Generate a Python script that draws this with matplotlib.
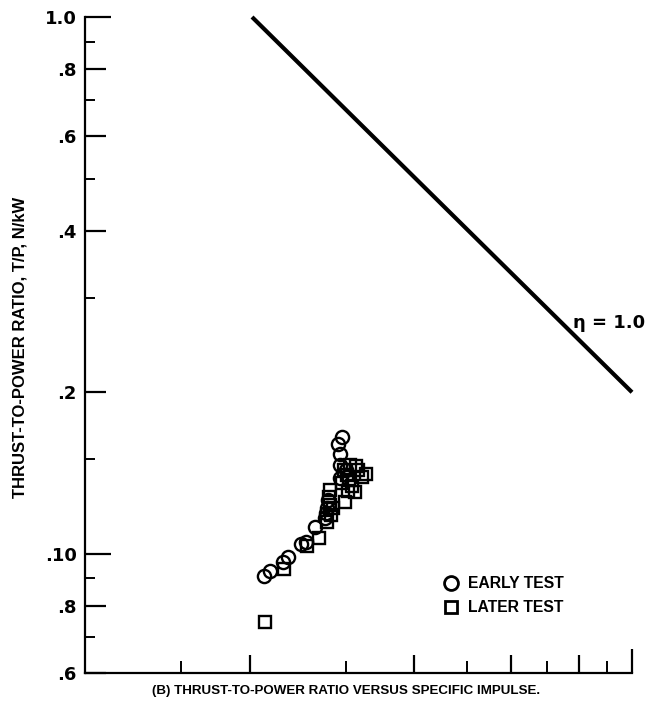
import matplotlib
matplotlib.use("Agg")
import matplotlib.pyplot as plt
from matplotlib.ticker import FixedLocator, FixedFormatter, NullFormatter
from matplotlib.lines import Line2D

# ---- data ----
early_isp = [212, 218, 230, 235, 248, 254, 263, 275, 276, 277, 278, 290, 295, 292, 293, 292, 300]
early_tp = [0.091, 0.093, 0.0966, 0.0987, 0.1044, 0.1053, 0.1122, 0.1166, 0.1192, 0.1219, 0.126,
            0.160, 0.165, 0.1536, 0.1465, 0.1386, 0.1433]

later_isp = [213, 231, 255, 268, 277, 282, 279, 284, 281, 299, 303, 304, 308, 312, 297, 305,
             313, 316, 326, 321, 301, 281, 295]
later_tp = [0.0747, 0.0938, 0.1035, 0.107, 0.1147, 0.1182, 0.1277, 0.1218, 0.1234, 0.125, 0.131,
            0.1374, 0.134, 0.1304, 0.1433, 0.1465, 0.1458, 0.1433, 0.141, 0.139, 0.140, 0.1316, 0.1356]

eta_isp = [202, 1000]
eta_tp = [1.0, 0.20]

y_major = [1.0, 0.8, 0.6, 0.4, 0.2, 0.1, 0.08, 0.06]
y_major_labels = ['1.0', '.8', '.6', '.4', '.2', '.10', '.8', '.6']
y_minor = [0.9, 0.7, 0.5, 0.3, 0.15, 0.09, 0.07]
x_major = [200, 400, 600, 800, 1000]
x_minor = [150, 300, 500, 700, 900]

FONT = ['DejaVu Sans']
NARROW = ['Liberation Sans', 'DejaVu Sans']

fig = plt.figure(figsize=(6.57, 7.12), dpi=100)
ax = fig.add_axes([85/657, 1 - 673/712, (632-85)/657, (673-17)/712])

ax.set_xscale('log')
ax.set_yscale('log')
ax.set_xlim(100, 1000)
ax.set_ylim(0.06, 1.0)

ax.plot(eta_isp, eta_tp, color='black', lw=3.0, solid_capstyle='butt', clip_on=False)
ax.plot(early_isp, early_tp, 'o', ms=9.5, mfc='none', mec='black', mew=1.7, clip_on=False)
ax.plot(later_isp, later_tp, 's', ms=8.5, mfc='none', mec='black', mew=1.7, clip_on=False)

for s in ['top', 'right']:
    ax.spines[s].set_visible(False)
for s in ['left', 'bottom']:
    ax.spines[s].set_linewidth(1.6)

ax.yaxis.set_major_locator(FixedLocator(y_major))
ax.yaxis.set_major_formatter(FixedFormatter(y_major_labels))
ax.yaxis.set_minor_locator(FixedLocator(y_minor))
ax.yaxis.set_minor_formatter(NullFormatter())
ax.xaxis.set_major_locator(FixedLocator(x_major))
ax.xaxis.set_major_formatter(NullFormatter())
ax.xaxis.set_minor_locator(FixedLocator(x_minor))
ax.xaxis.set_minor_formatter(NullFormatter())

ax.tick_params(axis='y', which='major', direction='in', length=15, width=1.6, pad=6,
               labelsize=13)
ax.tick_params(axis='y', which='minor', direction='in', length=7.5, width=1.4)
ax.tick_params(axis='x', which='major', direction='in', length=13, width=1.6)
ax.tick_params(axis='x', which='minor', direction='in', length=8.5, width=1.4)

for lab in ax.get_yticklabels():
    lab.set_family(FONT)
    lab.set_fontweight('bold')

yt = ax.yaxis.get_major_ticks()
for i in (0, 5):
    yt[i].tick1line.set_markersize(19)
xt = ax.xaxis.get_major_ticks()
xt[-1].tick1line.set_markersize(17)

ax.text(780, 0.269, 'η = 1.0', fontsize=13, fontweight='bold', family=FONT,
        ha='left', va='center')

fig.text(20/657, 1 - 347/712, 'THRUST-TO-POWER RATIO, T/P, N/kW', rotation=90,
         fontsize=12, fontweight='bold', family=NARROW, ha='center', va='center')
fig.text(346/657, 1 - 691/712, '(B) THRUST-TO-POWER RATIO VERSUS SPECIFIC IMPULSE.',
         fontsize=9.6, fontweight='bold', family=NARROW, ha='center', va='center')

handles = [Line2D([], [], ls='none', marker='o', ms=10, mfc='none', mec='black', mew=2.0),
           Line2D([], [], ls='none', marker='s', ms=9, mfc='none', mec='black', mew=2.0)]
leg = ax.legend(handles, ['EARLY TEST', 'LATER TEST'], loc='upper left',
                bbox_to_anchor=(443/657, 1 - 576/712), bbox_transform=fig.transFigure,
                frameon=False, handlelength=1.0, handletextpad=0.6, labelspacing=0.6,
                borderpad=0, borderaxespad=0,
                prop={'family': NARROW, 'weight': 'bold', 'size': 11.3})

fig.savefig('out.png', dpi=100)
